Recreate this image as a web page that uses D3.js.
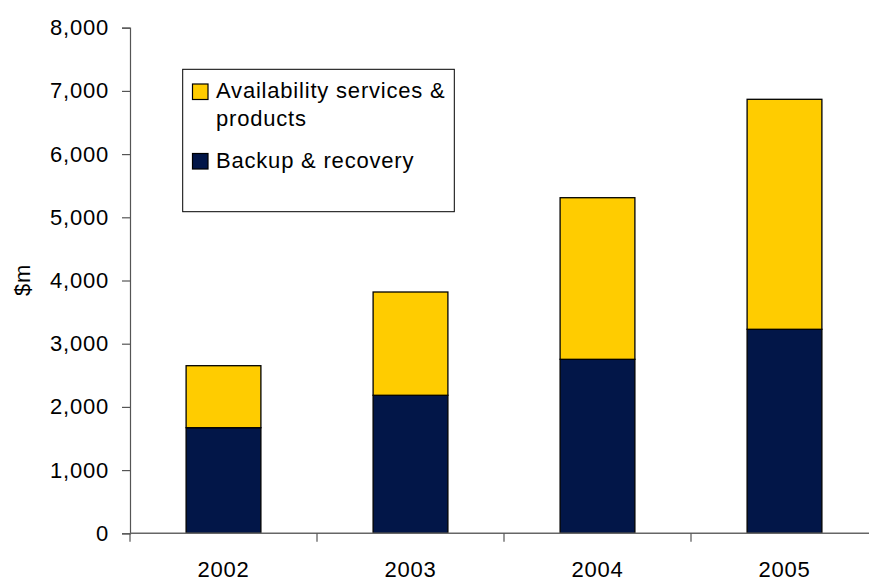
<!DOCTYPE html>
<html><head><meta charset="utf-8">
<script src="https://cdn.jsdelivr.net/npm/d3@7/dist/d3.min.js"></script>
<style>
html,body{margin:0;padding:0;background:#fff;overflow:hidden}
text{font-family:"Liberation Sans",Arial,sans-serif;fill:#000}
</style></head><body>
<svg id="c" width="869" height="579"></svg>
<script>
const years = ["2002","2003","2004","2005"];
const backup = [1671, 2184, 2753, 3228];
const availability = [981, 1634, 2557, 3639];
const seriesNames = ["Backup & recovery", "Availability services & products"];
const seriesColors = ["#021648", "#FFCC00"];
const yTicks = [0,1000,2000,3000,4000,5000,6000,7000,8000];
const yLabel = "$m";

(function(){
const svg = d3.select("#c");
const mLeft = 130, mTop = 27.7, mRight = 878, mBottom = 533.3;
const fs = 22, ls = "0.8px";

const x = d3.scaleBand().domain(years).range([mLeft, mRight]).paddingInner(0.6).paddingOuter(0.3);
const xb = d3.scaleBand().domain(years).range([mLeft, mRight]);
const y = d3.scaleLinear().domain([0, 8000]).range([mBottom, mTop]);

const data = years.map((yr, i) => ({year: yr, backup: backup[i], availability: availability[i]}));
const stack = d3.stack().keys(["backup", "availability"])(data);

// bars
stack.forEach((s, si) => {
  svg.append("g").selectAll("rect").data(s).join("rect")
    .attr("x", d => x(d.data.year))
    .attr("width", x.bandwidth())
    .attr("y", d => y(d[1]))
    .attr("height", d => y(d[0]) - y(d[1]))
    .attr("fill", seriesColors[si])
    .attr("stroke", "#000").attr("stroke-width", 1.3);
});

// y axis
const ya = svg.append("g").attr("transform", `translate(${mLeft},0)`)
  .call(d3.axisLeft(y).tickValues(yTicks).tickSize(8).tickPadding(13).tickFormat(d3.format(",")));
ya.select(".domain").attr("stroke", "#555").attr("stroke-width", 1.2);
ya.selectAll(".tick line").attr("stroke", "#555").attr("stroke-width", 1.2);
ya.selectAll("text").attr("font-size", fs).style("letter-spacing", ls)
  .attr("font-family", "Liberation Sans, Arial, sans-serif").attr("fill", "#000");

// x axis
const xa = svg.append("g").attr("transform", `translate(0,${mBottom})`);
xa.append("line").attr("x1", mLeft).attr("x2", mRight).attr("y1", 0).attr("y2", 0)
  .attr("stroke", "#666").attr("stroke-width", 1.5);
xa.selectAll("line.t").data(years.concat(["end"])).join("line").attr("class","t")
  .attr("x1", (d,i) => mLeft + i * xb.bandwidth()).attr("x2", (d,i) => mLeft + i * xb.bandwidth())
  .attr("y1", 0).attr("y2", 8.5).attr("stroke", "#555").attr("stroke-width", 1.2);
xa.selectAll("text").data(years).join("text")
  .attr("x", d => xb(d) + xb.bandwidth() / 2).attr("y", 43.5)
  .attr("text-anchor", "middle").attr("font-size", fs).style("letter-spacing", ls)
  .text(d => d);

// y label
svg.append("text").attr("transform", "translate(30,280) rotate(-90)")
  .attr("text-anchor", "middle").attr("font-size", fs).style("letter-spacing", ls).text(yLabel);

// legend
const lg = svg.append("g");
lg.append("rect").attr("x", 182.7).attr("y", 69.3).attr("width", 271.6).attr("height", 142.4)
  .attr("fill", "#fff").attr("stroke", "#000").attr("stroke-width", 1);
const legendItems = [
  {color: seriesColors[1], lines: ["Availability services &", "products"], sy: 84},
  {color: seriesColors[0], lines: ["Backup & recovery"], sy: 153.5}
];
legendItems.forEach(it => {
  lg.append("rect").attr("x", 192.5).attr("y", it.sy).attr("width", 15.5).attr("height", 15.5)
    .attr("fill", it.color).attr("stroke", "#000").attr("stroke-width", 1.2);
  it.lines.forEach((t, j) => {
    lg.append("text").attr("x", 216).attr("y", it.sy + 14 + j * 27.5)
      .attr("font-size", fs).style("letter-spacing", ls).text(t);
  });
});
})();
</script>
</body></html>
